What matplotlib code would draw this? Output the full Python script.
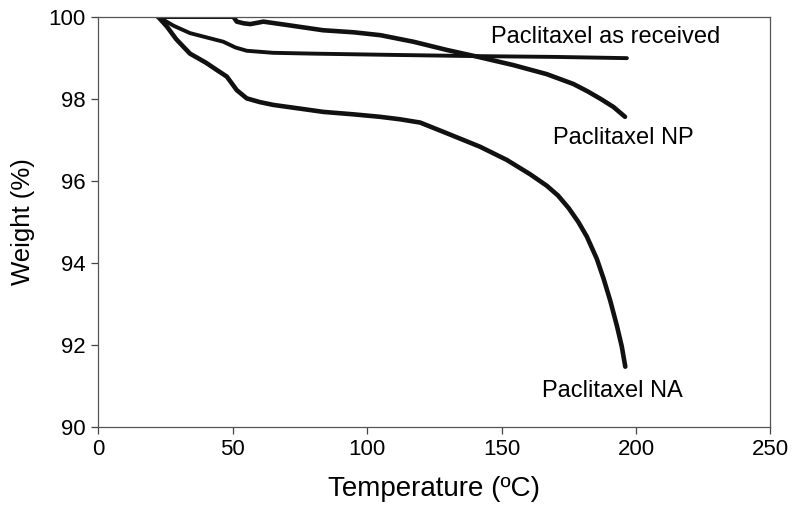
import matplotlib
matplotlib.use("Agg")
import matplotlib.pyplot as plt

plt.rcParams['font.family'] = ['Liberation Sans', 'DejaVu Sans']

# Paclitaxel as received
recv_T = [22.2, 28.0, 34.1, 40.0, 46.5, 51.0, 55.2, 65.0, 80.0, 108.5, 140.0, 170.0, 196.6]
recv_W = [100.0, 99.78, 99.60, 99.50, 99.39, 99.25, 99.17, 99.12, 99.10, 99.07, 99.04, 99.02, 98.99]

# Paclitaxel NP
np_T = [22.2, 35.0, 50.2, 51.5, 54.0, 56.5, 59.0, 61.4, 70.0, 83.6, 95.0, 104.9, 117.2, 129.6, 142.0,
        154.4, 166.8, 176.7, 182.0, 187.0, 191.6, 195.9]
np_W = [100.0, 100.0, 100.0, 99.88, 99.84, 99.82, 99.85, 99.88, 99.80, 99.67, 99.62, 99.55, 99.39, 99.19, 99.01,
        98.82, 98.60, 98.36, 98.18, 97.99, 97.80, 97.56]

# Paclitaxel NA
na_T = [22.2, 25.5, 29.0, 34.1, 40.0, 44.1, 47.8, 51.5, 55.2, 60.0, 65.1, 75.0, 83.7, 95.0,
        104.8, 112.2, 119.7, 129.6, 142.0, 151.9, 160.6, 166.8, 171.0, 175.0, 178.5, 181.7,
        185.4, 187.9, 190.4, 192.9, 194.7, 196.0]
na_W = [100.0, 99.76, 99.45, 99.10, 98.88, 98.70, 98.54, 98.21, 98.01, 97.92, 97.85, 97.76, 97.68, 97.62,
        97.56, 97.50, 97.42, 97.16, 96.83, 96.51, 96.16, 95.88, 95.64, 95.33, 95.00, 94.64,
        94.10, 93.62, 93.08, 92.46, 91.96, 91.47]

xticks = [0, 50, 100, 150, 200, 250]
yticks = [90, 92, 94, 96, 98, 100]

fig = plt.figure(figsize=(8.0, 5.19), dpi=100)
ax = fig.add_axes([0.1229, 0.1773, 0.8402, 0.7905])

ax.plot(recv_T, recv_W, color='#111111', lw=2.8, solid_capstyle='round', solid_joinstyle='round')
ax.plot(np_T, np_W, color='#111111', lw=3.3, solid_capstyle='round', solid_joinstyle='round')
ax.plot(na_T, na_W, color='#111111', lw=3.3, solid_capstyle='round', solid_joinstyle='round')

ax.set_xlim(0, 250)
ax.set_ylim(90, 100)
ax.set_xticks(xticks)
ax.set_yticks(yticks)
ax.tick_params(axis='both', labelsize=16, direction='out', length=5, width=0.9, color='#444444', pad=4)
for s in ax.spines.values():
    s.set_color('#555555')
    s.set_linewidth(0.9)

ax.set_xlabel('Temperature (ºC)', fontsize=20, labelpad=11)
ax.set_ylabel('Weight (%)', fontsize=18.5, labelpad=10)

ax.text(188.7, 99.51, 'Paclitaxel as received', fontsize=17, ha='center', va='center')
ax.text(195.4, 97.04, 'Paclitaxel NP', fontsize=17, ha='center', va='center')
ax.text(191.1, 90.87, 'Paclitaxel NA', fontsize=17, ha='center', va='center')

fig.savefig('out.png', dpi=100)
